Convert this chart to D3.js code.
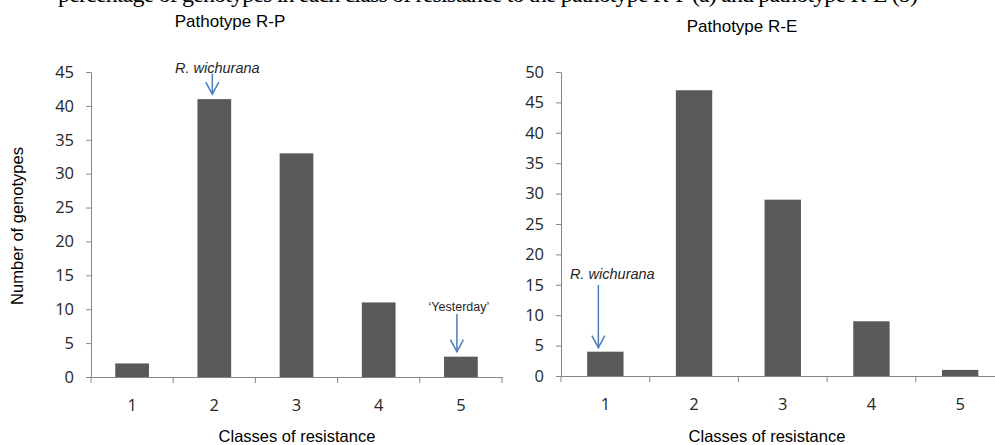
<!DOCTYPE html>
<html>
<head>
<meta charset="utf-8">
<script src="https://cdn.jsdelivr.net/npm/d3@7"></script>
<style>
  html, body { margin: 0; padding: 0; background: #fff; }
  svg { display: block; }
  text { font-family: "Liberation Sans", Arial, sans-serif; }
</style>
</head>
<body>
<svg id="chart" width="995" height="445"></svg>
<script>
const categories = ["1", "2", "3", "4", "5"];
const valuesRP = [2, 41, 33, 11, 3];
const valuesRE = [4, 47, 29, 9, 1];
const ticksRP = [0, 5, 10, 15, 20, 25, 30, 35, 40, 45];
const ticksRE = [0, 5, 10, 15, 20, 25, 30, 35, 40, 45, 50];
const titles = ["Pathotype R-P", "Pathotype R-E"];
const xTitle = "Classes of resistance";
const yTitle = "Number of genotypes";
const annotationsRP = [{cat: "2", label: "R. wichurana", italic: true}, {cat: "5", label: "\u2018Yesterday\u2019", italic: false}];
const annotationsRE = [{cat: "1", label: "R. wichurana", italic: true}];
const captionText = "percentage of genotypes in each class of resistance to the pathotype R-P (a) and pathotype R-E (b)";

const svg = d3.select("#chart");
const axisColor = "#868686";
const barColor = "#595959";
const arrowColor = "#4a7ebb";

// clipped caption line at top (only its lower part shows, as in the reference)
svg.append("text")
  .attr("x", 58).attr("y", 2)
  .style("font-family", "'Liberation Serif', 'DejaVu Serif', serif")
  .style("font-size", "24px")
  .attr("textLength", 860)
  .attr("fill", "#000")
  .text(captionText);

function drawPanel(cfg) {
  const g = svg.append("g");
  const x = d3.scaleBand().domain(categories).range([cfg.x0, cfg.x1]).paddingInner(0.59).paddingOuter(0.295);
  const y = d3.scaleLinear().domain([0, cfg.max]).range([cfg.y0, cfg.yTop]);
  const step = (cfg.x1 - cfg.x0) / categories.length;

  g.selectAll("rect.bar").data(cfg.values).enter().append("rect")
    .attr("class", "bar")
    .attr("x", (d, i) => x(categories[i]))
    .attr("width", x.bandwidth())
    .attr("y", d => y(d))
    .attr("height", d => y(0) - y(d))
    .attr("fill", barColor);

  const yAxis = d3.axisLeft(y).tickValues(cfg.ticks).tickSize(5).tickPadding(12).tickSizeOuter(0);
  const ya = g.append("g").attr("transform", `translate(${cfg.x0},0)`).call(yAxis);
  ya.select(".domain").attr("stroke", axisColor);
  ya.selectAll(".tick line").attr("stroke", axisColor);
  ya.selectAll(".tick text").attr("fill", "#262626").style("font-size", "16.5px")
    .style("font-family", "'Open Sans', 'Liberation Sans', sans-serif");

  const xAxis = d3.axisBottom(x).tickSize(0).tickPadding(22).tickSizeOuter(0);
  const xa = g.append("g").attr("transform", `translate(0,${cfg.y0})`).call(xAxis);
  xa.select(".domain").attr("stroke", axisColor);
  xa.selectAll(".tick text").attr("fill", "#262626").style("font-size", "16.5px")
    .style("font-family", "'Open Sans', 'Liberation Sans', sans-serif");
  const bounds = d3.range(categories.length + 1).map(i => cfg.x0 + i * step);
  xa.selectAll("line.bt").data(bounds).enter().append("line")
    .attr("class", "bt")
    .attr("x1", d => d).attr("x2", d => d)
    .attr("y1", 0).attr("y2", 6)
    .attr("stroke", axisColor);

  g.append("text").attr("x", cfg.titleX).attr("y", cfg.titleY)
    .attr("text-anchor", "middle").style("font-size", "17px").attr("fill", "#000")
    .text(cfg.title);
  g.append("text").attr("x", cfg.xTitleX).attr("y", 442)
    .attr("text-anchor", "middle").style("font-size", "16.5px").attr("fill", "#000")
    .text(xTitle);

  cfg.annotations.forEach(a => {
    const i = categories.indexOf(a.cat);
    const cx = x(a.cat) + x.bandwidth() / 2 + a.dx;
    const tip = y(cfg.values[i]) - a.gap;
    g.append("text").attr("x", cx + a.tdx).attr("y", a.textY)
      .attr("text-anchor", "middle")
      .style("font-size", a.size + "px")
      .style("font-style", a.italic ? "italic" : "normal")
      .attr("fill", "#262626")
      .text(a.label);
    g.append("line").attr("x1", cx).attr("x2", cx).attr("y1", a.lineTop).attr("y2", tip)
      .attr("stroke", arrowColor).attr("stroke-width", 1.5);
    g.append("path")
      .attr("d", `M${cx - 6.5},${tip - 12} L${cx},${tip} L${cx + 6.5},${tip - 12}`)
      .attr("fill", "none").attr("stroke", arrowColor).attr("stroke-width", 1.5);
  });
}

drawPanel({
  x0: 91, x1: 502, y0: 377, yTop: 72, max: 45, ticks: ticksRP, values: valuesRP,
  title: titles[0], titleX: 230, titleY: 27, xTitleX: 297,
  annotations: [
    Object.assign({}, annotationsRP[0], {dx: -2, tdx: 5, gap: 5, textY: 73, lineTop: 74, size: 14.5}),
    Object.assign({}, annotationsRP[1], {dx: -4, tdx: 2, gap: 5, textY: 311, lineTop: 314, size: 12.5})
  ]
});

drawPanel({
  x0: 561, x1: 1004.5, y0: 376, yTop: 72, max: 50, ticks: ticksRE, values: valuesRE,
  title: titles[1], titleX: 742, titleY: 32, xTitleX: 767,
  annotations: [
    Object.assign({}, annotationsRE[0], {dx: -7, tdx: 14, gap: 4, textY: 279, lineTop: 285, size: 14.5})
  ]
});

svg.append("text")
  .attr("transform", "translate(23,226) rotate(-90)")
  .attr("text-anchor", "middle").style("font-size", "16.5px").attr("fill", "#000")
  .text(yTitle);
</script>
</body>
</html>
